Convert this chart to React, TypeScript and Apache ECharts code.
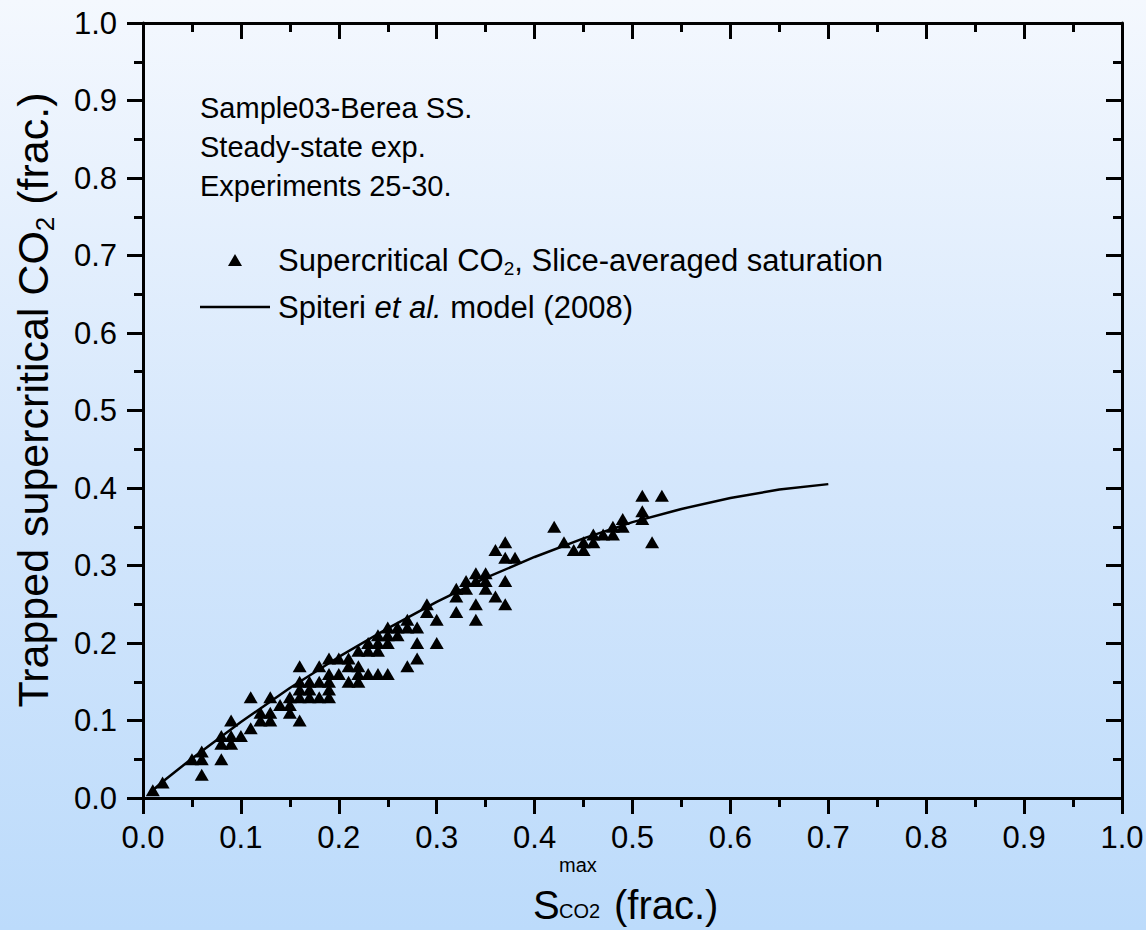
import React, { useEffect, useRef } from 'react';
import * as echarts from 'echarts';

// Measured points: [S_CO2 max, trapped CO2]
const scatterPoints: [number, number][] = [
  [0.01, 0.01], [0.02, 0.02], [0.05, 0.05], [0.06, 0.06], [0.06, 0.05], [0.06, 0.03],
  [0.08, 0.05], [0.08, 0.08], [0.08, 0.07], [0.09, 0.10], [0.09, 0.07], [0.09, 0.08],
  [0.10, 0.08], [0.11, 0.09], [0.11, 0.13], [0.12, 0.11], [0.12, 0.10], [0.13, 0.13],
  [0.13, 0.11], [0.13, 0.10], [0.14, 0.12], [0.15, 0.13], [0.15, 0.12], [0.15, 0.11],
  [0.16, 0.17], [0.16, 0.15], [0.16, 0.14], [0.16, 0.13], [0.16, 0.10], [0.17, 0.15],
  [0.17, 0.14], [0.17, 0.13], [0.18, 0.17], [0.18, 0.15], [0.18, 0.13], [0.19, 0.18],
  [0.19, 0.16], [0.19, 0.15], [0.19, 0.14], [0.19, 0.13], [0.20, 0.18], [0.20, 0.16],
  [0.21, 0.18], [0.21, 0.17], [0.21, 0.15], [0.22, 0.19], [0.22, 0.17], [0.22, 0.16],
  [0.22, 0.15], [0.23, 0.20], [0.23, 0.19], [0.23, 0.16], [0.24, 0.21], [0.24, 0.20],
  [0.24, 0.19], [0.24, 0.16], [0.25, 0.22], [0.25, 0.21], [0.25, 0.20], [0.25, 0.16],
  [0.26, 0.22], [0.26, 0.21], [0.27, 0.23], [0.27, 0.22], [0.27, 0.17], [0.28, 0.22],
  [0.28, 0.20], [0.28, 0.18], [0.29, 0.25], [0.29, 0.24], [0.30, 0.23], [0.30, 0.20],
  [0.32, 0.27], [0.32, 0.26], [0.32, 0.24], [0.33, 0.28], [0.33, 0.27], [0.34, 0.29],
  [0.34, 0.28], [0.34, 0.25], [0.34, 0.23], [0.35, 0.29], [0.35, 0.28], [0.35, 0.27],
  [0.36, 0.32], [0.36, 0.26], [0.37, 0.33], [0.37, 0.31], [0.37, 0.28], [0.37, 0.25],
  [0.38, 0.31], [0.42, 0.35], [0.43, 0.33], [0.44, 0.32], [0.45, 0.33], [0.45, 0.32],
  [0.46, 0.34], [0.46, 0.33], [0.47, 0.34], [0.48, 0.35], [0.48, 0.34], [0.49, 0.36],
  [0.49, 0.35], [0.51, 0.39], [0.51, 0.37], [0.51, 0.36], [0.52, 0.33], [0.53, 0.39],
];

// Spiteri et al. (2008) model curve
const modelX = [0.01, 0.02, 0.05, 0.10, 0.15, 0.20, 0.25, 0.30, 0.35, 0.40, 0.45, 0.50, 0.55, 0.60, 0.65, 0.70];
const modelY = [0.010, 0.021, 0.051, 0.098, 0.142, 0.182, 0.219, 0.253, 0.284, 0.311, 0.335, 0.356, 0.373, 0.387, 0.398, 0.405];

const annotationLines = ['Sample03-Berea SS.', 'Steady-state exp.', 'Experiments 25-30.'];
const legendScatterText = '{t|Supercritical CO}{s|2}{t|, Slice-averaged saturation}';
const legendModelText = '{t|Spiteri }{i|et al.}{t| model (2008)}';
const yTitleText = '{t|Trapped supercritical CO}{s|2}{t| (frac.)}';

const FONT = '"Liberation Sans", Arial, sans-serif';

export default function App() {
  const ref = useRef<HTMLDivElement>(null);

  useEffect(() => {
    if (!ref.current) return;
    const chart = echarts.init(ref.current, undefined, { renderer: 'svg' });
    const lineStyle = { color: '#000', width: 3 };
    const labelStyle = { fontSize: 31, color: '#000', fontFamily: FONT };

    const baseAxis = {
      type: 'value' as const,
      min: 0,
      max: 1,
      interval: 0.1,
      splitLine: { show: false },
      axisLine: { show: true, onZero: false, lineStyle },
    };

    const legendRich = {
      t: { fontSize: 31, lineHeight: 32, color: '#000', fontFamily: FONT },
      i: { fontSize: 31, lineHeight: 32, fontStyle: 'italic', color: '#000', fontFamily: FONT },
      s: { fontSize: 19, lineHeight: 19, padding: [17, 0, 0, 0], color: '#000', fontFamily: FONT },
    };

    const option: any = {
      animation: false,
      backgroundColor: new echarts.graphic.LinearGradient(0, 0, 0, 1, [
        { offset: 0, color: '#f4f8fe' },
        { offset: 0.5, color: '#d5e7fc' },
        { offset: 1, color: '#bcdbfb' },
      ]),
      grid: { left: 143, right: 24, top: 23, bottom: 132, outerBoundsMode: 'none', containLabel: false },
      xAxis: [
        {
          ...baseAxis,
          position: 'bottom',
          axisTick: { show: true, length: 16, lineStyle },
          minorTick: { show: true, splitNumber: 2, length: 9, lineStyle },
          axisLabel: { ...labelStyle, margin: 24, formatter: (v: number) => v.toFixed(1) },
        },
        {
          ...baseAxis,
          position: 'top',
          axisTick: { show: true, inside: true, length: 16, lineStyle },
          minorTick: { show: true, splitNumber: 2, length: 9, lineStyle },
          axisLabel: { show: false },
        },
      ],
      yAxis: [
        {
          ...baseAxis,
          position: 'left',
          axisTick: { show: true, length: 16, lineStyle },
          minorTick: { show: true, splitNumber: 2, length: 9, lineStyle },
          axisLabel: { ...labelStyle, margin: 26, formatter: (v: number) => v.toFixed(1) },
        },
        {
          ...baseAxis,
          position: 'right',
          axisTick: { show: true, inside: true, length: 16, lineStyle },
          minorTick: { show: true, splitNumber: 2, length: 9, lineStyle },
          axisLabel: { show: false },
        },
      ],
      graphic: [
        ...annotationLines.map((txt, i) => ({
          type: 'text',
          x: 200,
          y: 108 + i * 39,
          style: { text: txt, fill: '#000', font: `29px ${FONT}`, verticalAlign: 'middle' },
        })),
        // legend
        {
          type: 'polygon',
          shape: { points: [[235, 254], [228, 266], [242, 266]] },
          style: { fill: '#000' },
        },
        {
          type: 'line',
          shape: { x1: 200, y1: 307, x2: 270, y2: 307 },
          style: { stroke: '#000', lineWidth: 2.5 },
        },
        {
          type: 'text',
          x: 278,
          y: 260,
          style: { text: legendScatterText, rich: legendRich, fill: '#000', verticalAlign: 'middle' },
        },
        {
          type: 'text',
          x: 278,
          y: 307,
          style: { text: legendModelText, rich: legendRich, fill: '#000', verticalAlign: 'middle' },
        },
        // y-axis title
        {
          type: 'text',
          x: 33,
          y: 400,
          rotation: Math.PI / 2,
          style: {
            text: yTitleText,
            align: 'center',
            verticalAlign: 'middle',
            fill: '#000',
            rich: {
              t: { fontSize: 43, lineHeight: 43, color: '#000', fontFamily: FONT },
              s: { fontSize: 26, lineHeight: 26, padding: [24, 0, 0, 0], color: '#000', fontFamily: FONT },
            },
          },
        },
        // x-axis title
        {
          type: 'text',
          x: 533,
          y: 905,
          style: { text: 'S', fill: '#000', font: `40px ${FONT}`, verticalAlign: 'middle' },
        },
        {
          type: 'text',
          x: 559,
          y: 865,
          style: { text: 'max', fill: '#000', font: `20px ${FONT}`, verticalAlign: 'middle' },
        },
        {
          type: 'text',
          x: 559,
          y: 911,
          style: { text: 'CO2', fill: '#000', font: `20px ${FONT}`, verticalAlign: 'middle' },
        },
        {
          type: 'text',
          x: 614,
          y: 905,
          style: { text: '(frac.)', fill: '#000', font: `40px ${FONT}`, verticalAlign: 'middle' },
        },
      ],
      series: [
        {
          name: 'Supercritical CO2, Slice-averaged saturation',
          type: 'scatter',
          xAxisIndex: 0,
          yAxisIndex: 0,
          data: scatterPoints,
          symbol: 'triangle',
          symbolSize: [14, 12],
          itemStyle: { color: '#000', opacity: 1 },
          z: 2,
        },
        {
          name: 'Spiteri et al. model (2008)',
          type: 'line',
          xAxisIndex: 0,
          yAxisIndex: 0,
          data: modelX.map((x, i) => [x, modelY[i]]),
          symbol: 'none',
          showSymbol: false,
          lineStyle: { color: '#000', width: 2.5 },
          itemStyle: { color: '#000' },
          z: 3,
        },
      ],
    };
    chart.setOption(option);
    return () => chart.dispose();
  }, []);

  return (
    <div
      ref={ref}
      style={{ position: 'fixed', left: 0, top: 0, width: 1146, height: 930 }}
    />
  );
}
